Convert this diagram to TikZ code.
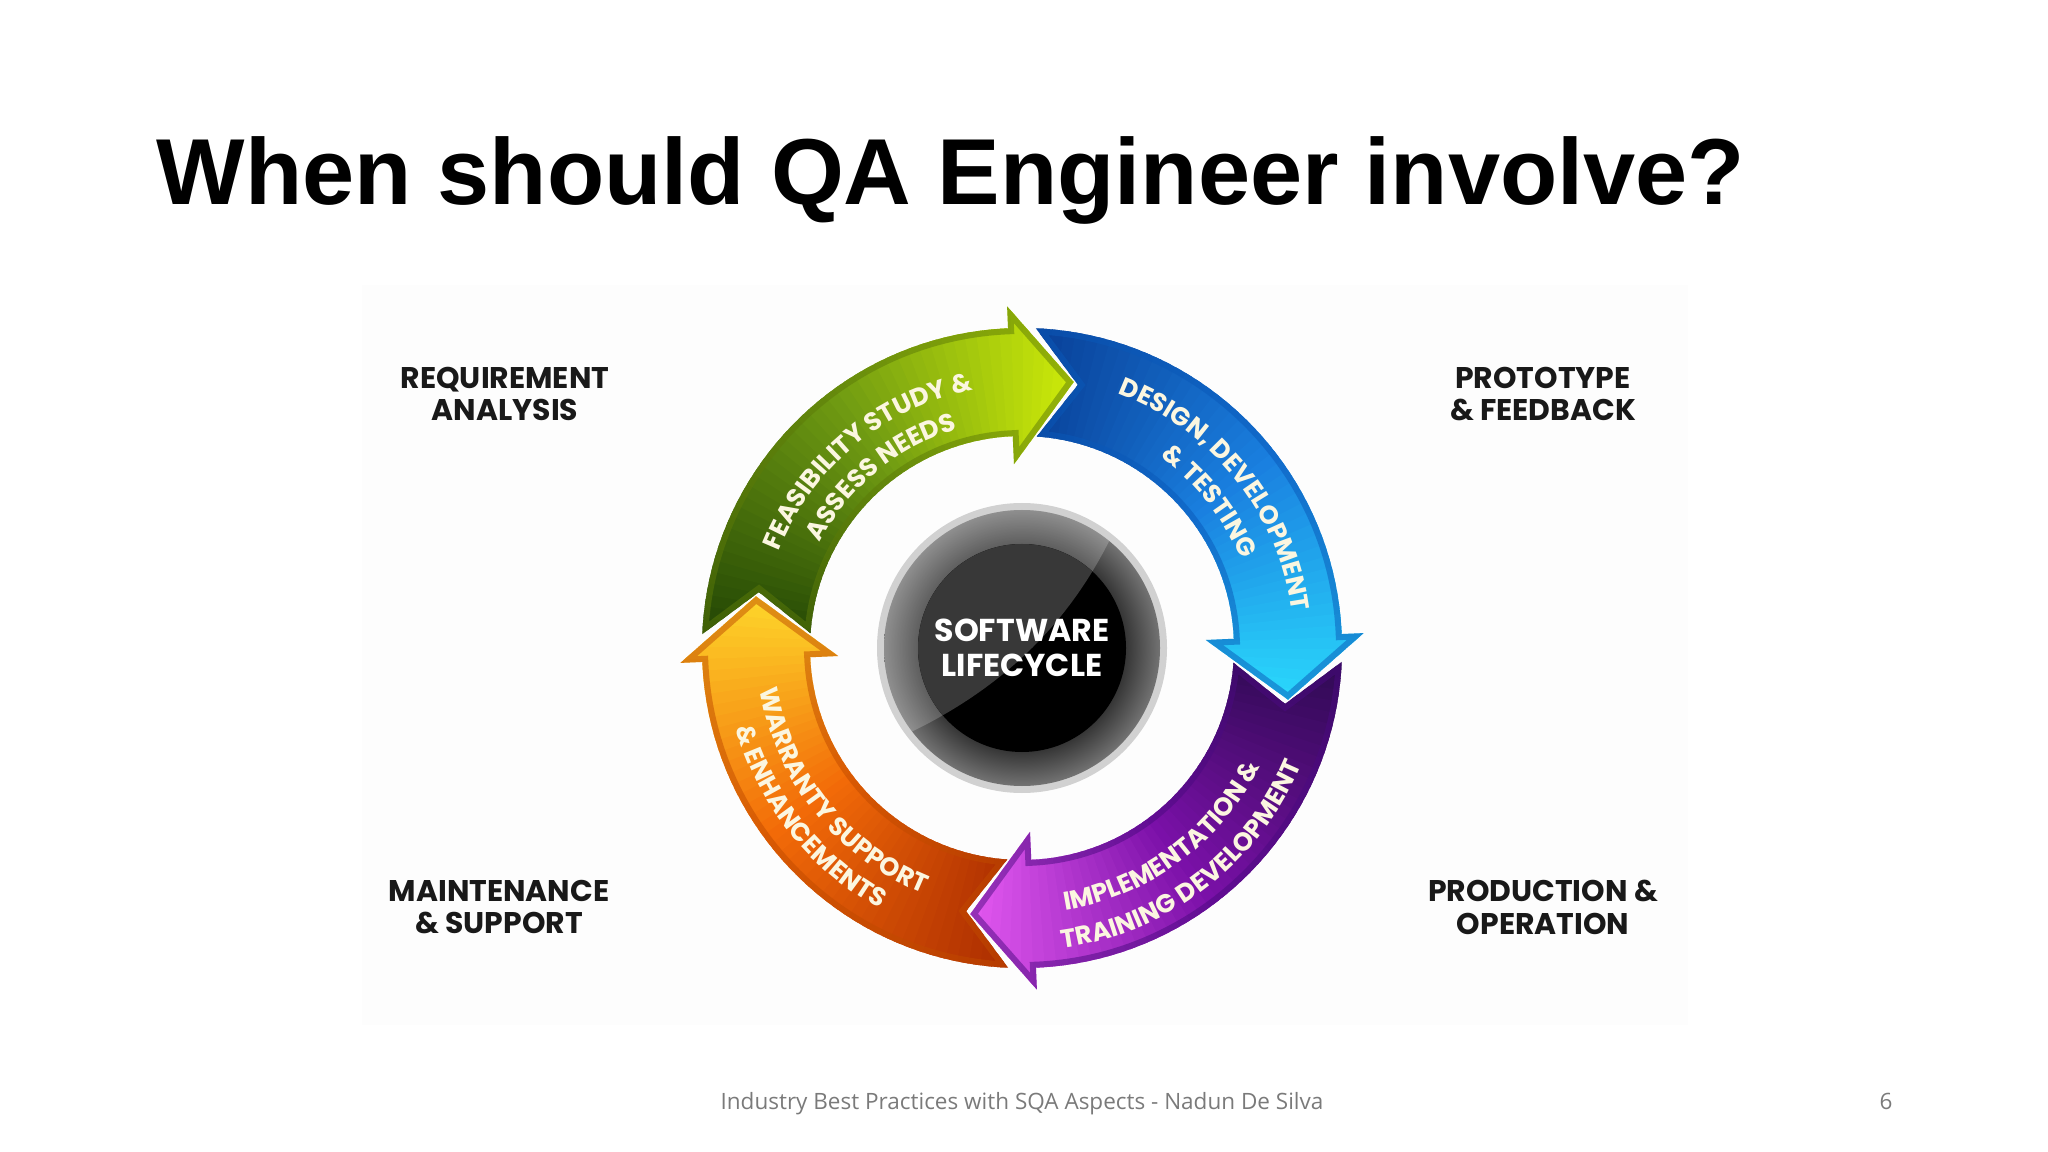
\documentclass[tikz,border=0pt]{standalone}
\usepackage{fontspec}
\usetikzlibrary{decorations.text}
\setmainfont{Liberation Sans}
\newfontfamily\ringfont{Poppins}
\newfontfamily\footfont{Open Sans}
\definecolor{greentail}{HTML}{1F4204}
\definecolor{greenmid}{HTML}{6F9A12}
\definecolor{greenhead}{HTML}{D8F408}
\definecolor{greenedge}{HTML}{5C7A08}
\definecolor{bluetail}{HTML}{083C94}
\definecolor{bluemid}{HTML}{1A80E0}
\definecolor{bluehead}{HTML}{2CE2FF}
\definecolor{blueedge}{HTML}{0A58B8}
\definecolor{purpletail}{HTML}{2B0A4F}
\definecolor{purplemid}{HTML}{7A10A8}
\definecolor{purplehead}{HTML}{EE60F8}
\definecolor{purpleedge}{HTML}{4A0A80}
\definecolor{orangetail}{HTML}{A82A00}
\definecolor{orangemid}{HTML}{F26A08}
\definecolor{orangehead}{HTML}{FFE22E}
\definecolor{orangeedge}{HTML}{C04A00}
\definecolor{imagepaper}{HTML}{FDFDFD}
\definecolor{textcream}{HTML}{FBF6E0}
\pgfdeclareradialshading{discshade}{\pgfpoint{0bp}{0bp}}{color(0bp)=(black!80); color(18.5bp)=(black!80); color(25bp)=(black!55); color(50bp)=(black!55)}
\newcommand{\arrowfont}{\ringfont\bfseries\fontsize{7.3}{8}\selectfont\color{textcream}}
\tikzset{
    ringtext/.style={decorate,decoration={text along path,text align=center,text={#1}}},
    steplabel/.style={align=center,text=black!90,font=\ringfont\bfseries\fontsize{8.5}{9.35}\selectfont},
}
% one arrow of the ring, drawn at the top left and turned by #1
\newcommand{\ringoutline}{(177.5:320) arc[start angle=177.5,end angle=92.5,radius=320] -- (92.5:342) -- (79:271) -- (92.5:184) -- (92.5:212) arc[start angle=92.5,end angle=176,radius=212] -- (168:269) -- cycle}
\newcommand{\ringarrow}[5]{%
    \begin{scope}[rotate=#1]
        \begin{scope}
            \clip \ringoutline;
            \foreach \p in {0,2,...,100} {
                \pgfmathsetmacro{\ang}{181-\p*1.06}
                \pgfmathsetmacro{\angnext}{\ang-3.5}
                \pgfmathtruncatemacro{\low}{min(\p*2,100)}
                \pgfmathtruncatemacro{\high}{max(\p*2-100,0)}
                \ifnum\p<50 \colorlet{slicecol}{#3!\low!#2}\else \colorlet{slicecol}{#4!\high!#3}\fi
                \fill[slicecol] (0,0) -- (\ang:400) -- (\angnext:400) -- cycle;
            }
            \draw[#5,opacity=.5,line width=.12cm] \ringoutline;
        \end{scope}
    \end{scope}
}
\begin{document}
\begin{tikzpicture}[x=0.01cm,y=0.01cm]
    \useasboundingbox (0,0) rectangle (2048,-1152);
    \fill[imagepaper] (362,-285) rectangle (1688,-1025);
    \node[anchor=base west,inner sep=0pt,font=\bfseries\fontsize{26.65}{30}\selectfont] (title) at (156,-205) {When should QA Engineer involve?};
    \node[steplabel] (reqlabel) at (505,-394) {REQUIREMENT\\ANALYSIS};
    \node[steplabel] (protolabel) at (1543,-394) {PROTOTYPE\\\& FEEDBACK};
    \node[steplabel] (mainlabel) at (499,-907) {MAINTENANCE\\\& SUPPORT};
    \node[steplabel] (prodlabel) at (1543,-907) {PRODUCTION \&\\OPERATION};
    \begin{scope}[shift={(1022,-648)}]
        \ringarrow{0}{greentail}{greenmid}{greenhead}{greenedge}
        \ringarrow{-90}{bluetail}{bluemid}{bluehead}{blueedge}
        \ringarrow{-180}{purpletail}{purplemid}{purplehead}{purpleedge}
        \ringarrow{-270}{orangetail}{orangemid}{orangehead}{orangeedge}
        % text on the arrows
        \path[ringtext={|\arrowfont|FEASIBILITY STUDY {\&}}] (177:262) arc[start angle=177,end angle=82,radius=262];
        \path[ringtext={|\arrowfont|ASSESS NEEDS}] (170:228) arc[start angle=170,end angle=89,radius=228];
        \path[ringtext={|\arrowfont|DESIGN, DEVELOPMENT}] (87:272) arc[start angle=87,end angle=-10,radius=272];
        \path[ringtext={|\arrowfont|{\&} TESTING}] (71:236) arc[start angle=71,end angle=5,radius=236];
        \path[ringtext={|\arrowfont|IMPLEMENTATION {\&}}] (-100:266) arc[start angle=-100,end angle=-7,radius=266];
        \path[ringtext={|\arrowfont|TRAINING DEVELOPMENT}] (-102:303) arc[start angle=-102,end angle=-3,radius=303];
        \path[ringtext={|\arrowfont|WARRANTY SUPPORT}] (170:265) arc[start angle=170,end angle=267,radius=265];
        \path[ringtext={|\arrowfont|{\&} ENHANCEMENTS}] (177:297) arc[start angle=177,end angle=260,radius=297];
        % disc in the middle
        \fill[black!18] (0,0) circle[radius=145];
        \shade[shading=discshade] (0,0) circle[radius=138];
        \begin{scope}
            \clip (0,0) circle[radius=138];
            \fill[white,opacity=.2] (-135,-95) .. controls (-30,-50) and (50,20) .. (98,130) -- (-200,200) -- cycle;
        \end{scope}
        \fill[black] (0,0) circle[radius=104];
        \begin{scope}
            \clip (0,0) circle[radius=104];
            \fill[black!78] (-135,-95) .. controls (-30,-50) and (50,20) .. (98,130) -- (-200,200) -- cycle;
        \end{scope}
        \node[align=center,text=white,font=\ringfont\bfseries\fontsize{9}{9.8}\selectfont] (lifecycle) at (0,0) {SOFTWARE\\LIFECYCLE};
    \end{scope}
    \node[anchor=base,inner sep=0pt,text=black!52,font=\footfont\fontsize{6.4}{8}\selectfont] (footer) at (1022,-1109) {Industry Best Practices with SQA Aspects - Nadun De Silva};
    \node[anchor=base,inner sep=0pt,text=black!52,font=\footfont\fontsize{6.4}{8}\selectfont] (pagenum) at (1886,-1109) {6};
\end{tikzpicture}
\end{document}
